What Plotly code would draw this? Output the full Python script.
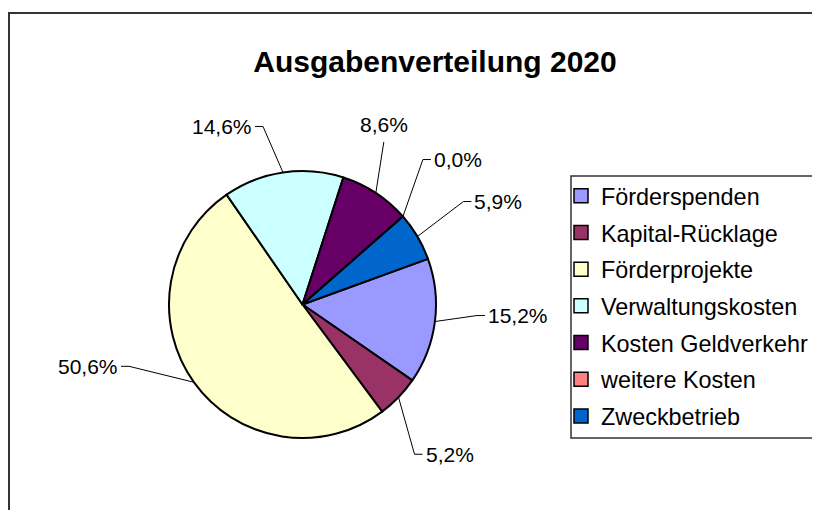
import math
import plotly.graph_objects as go

# ---------------- data ----------------
categories = ["Förderspenden", "Kapital-Rücklage", "Förderprojekte",
              "Verwaltungskosten", "Kosten Geldverkehr", "weitere Kosten",
              "Zweckbetrieb"]
shares = [15.2, 5.2, 50.6, 14.6, 8.6, 0.0, 5.9]
title_text = "Ausgabenverteilung 2020"

# ---------------- style ----------------
colors = ["#9999FF", "#993366", "#FFFFCC", "#CCFFFF", "#660066", "#FF8080", "#0066CC"]
FONT = "Liberation Sans, Arial, sans-serif"
PAGE = 8                             # default page margin of the html body
W, H = 820 - PAGE, 518 - 2 * PAGE    # figure size: fills the window, no scrollbars
CX, CY, R = 302.5, 304.5, 133.5      # pie centre / radius in window px
ROT = 70                             # first slice start angle (deg, clockwise from 12 o'clock)
# label placement: px offset of the text anchor from the slice's rim point, and side of attachment
label_layout = [((52, -6), "left"), ((26, 57), "left"), ((-75, -16), "right"),
                ((-30, -46), "right"), ((8, -59), "bottom"), ((30, -57), "left"),
                ((56, -35), "left")]


def px(x):
    return (x - PAGE) / W


def py(y):
    return 1 - (y - PAGE) / H


fig = go.Figure()
fig.add_trace(go.Pie(
    labels=categories, values=shares, sort=False, direction="clockwise",
    rotation=ROT, textinfo="none", hoverinfo="label+percent", showlegend=False,
    marker=dict(colors=colors, line=dict(color="black", width=2)),
    domain=dict(x=[px(CX - R), px(CX + R)], y=[py(CY + R), py(CY - R)]),
))

# legend entries (one per category, so the entry spacing can be set)
for name, col in zip(categories, colors):
    fig.add_trace(go.Scatter(
        x=[None], y=[None], mode="markers", name=name, legendgroup=name,
        marker=dict(symbol="square", size=14, color=col,
                    line=dict(color="black", width=1.5)),
        hoverinfo="skip",
    ))

total = sum(shares)
cum = 0.0
shapes = []
annotations = []
for v, (off, side) in zip(shares, label_layout):
    mid = math.radians(ROT + 360.0 * (cum + v / 2) / total)
    cum += v
    ex, ey = CX + R * math.sin(mid), CY - R * math.cos(mid)
    ax, ay = ex + off[0], ey + off[1]
    label = f"{v:.1f}".replace(".", ",") + "%"
    if side in ("left", "right"):
        d = 1 if side == "left" else -1
        path = (f"M{px(ex)},{py(ey)} L{px(ax - d * 10)},{py(ay)} "
                f"L{px(ax - d * 2)},{py(ay)}")
        annotations.append(dict(x=px(ax), y=py(ay), xref="paper", yref="paper",
                                text=label, showarrow=False, xanchor=side,
                                yanchor="middle", borderpad=0,
                                font=dict(family=FONT, size=21, color="black")))
    else:
        path = f"M{px(ex)},{py(ey)} L{px(ax)},{py(ay + 8)}"
        annotations.append(dict(x=px(ax), y=py(ay + 3), xref="paper", yref="paper",
                                text=label, showarrow=False, xanchor="center",
                                yanchor="bottom", borderpad=0,
                                font=dict(family=FONT, size=21, color="black")))
    shapes.append(dict(type="path", path=path, xref="paper", yref="paper",
                       line=dict(color="black", width=1)))

# outer chart border (open to the right/bottom) and legend box (open to the right)
shapes.append(dict(type="path", xref="paper", yref="paper",
                   path=f"M{px(9)},-0.05 L{px(9)},{py(13)} L1.05,{py(13)}",
                   line=dict(color="#333333", width=2)))
shapes.append(dict(type="path", xref="paper", yref="paper",
                   path=(f"M1.05,{py(176)} L{px(571)},{py(176)} "
                         f"L{px(571)},{py(438)} L1.05,{py(438)}"),
                   line=dict(color="#333333", width=1.5)))

fig.update_layout(
    width=W, height=H, margin=dict(l=0, r=0, t=0, b=0),
    paper_bgcolor="white", plot_bgcolor="white",
    xaxis=dict(visible=False), yaxis=dict(visible=False),
    title=dict(text=f"<b>{title_text}</b>", x=px(435), y=py(61),
               xanchor="center", yanchor="middle",
               font=dict(family=FONT, size=30, color="black")),
    legend=dict(x=px(561), y=py(174), xanchor="left", yanchor="top",
                bgcolor="rgba(0,0,0,0)", borderwidth=0, tracegroupgap=3.3,
                font=dict(family=FONT, size=23.4, color="black")),
    shapes=shapes, annotations=annotations,
)

fig.write_html("out.html")
